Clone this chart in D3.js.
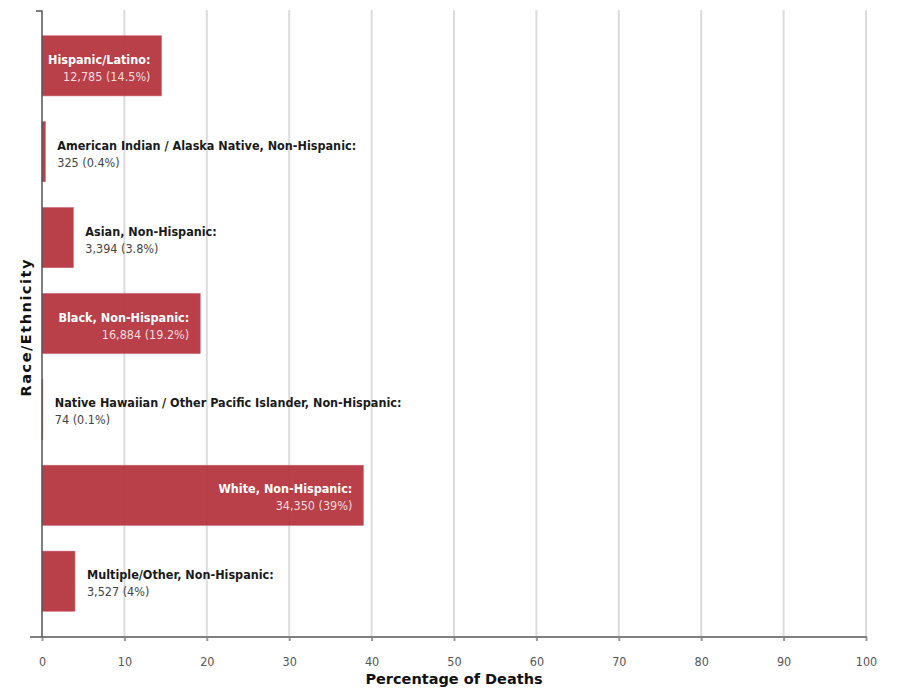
<!DOCTYPE html>
<html><head><meta charset="utf-8">
<script src="https://cdn.jsdelivr.net/npm/d3@7"></script>
<style>
body{margin:0;background:#fff;}
svg{display:block;font-family:"DejaVu Sans Condensed","DejaVu Sans",sans-serif;}
</style></head>
<body><svg id="c" width="897" height="690"></svg>
<script>
const categories = ["Hispanic/Latino","American Indian / Alaska Native, Non-Hispanic","Asian, Non-Hispanic","Black, Non-Hispanic","Native Hawaiian / Other Pacific Islander, Non-Hispanic","White, Non-Hispanic","Multiple/Other, Non-Hispanic"];
const percents = [14.5,0.4,3.8,19.2,0.1,39,4];
const counts = ["12,785","325","3,394","16,884","74","34,350","3,527"];
const pctLabels = ["14.5%","0.4%","3.8%","19.2%","0.1%","39%","4%"];
const xTicks = [0,10,20,30,40,50,60,70,80,90,100];

const svg = d3.select("#c");
const m = {left:42, right:31, top:10, bottom:53};
const W = 897, H = 690;
const x = d3.scaleLinear().domain([0,100]).range([m.left, W-m.right]);
const y = d3.scaleBand().domain(categories).range([m.top, H-m.bottom]).padding(0.3);

// gridlines
svg.append("g").selectAll("line").data(xTicks.filter(d=>d>0)).join("line")
  .attr("x1",d=>x(d)).attr("x2",d=>x(d)).attr("y1",m.top).attr("y2",H-m.bottom)
  .attr("stroke","#dcdcdc").attr("stroke-width",2);

// bars
const data = categories.map((c,i)=>({c,p:percents[i],n:counts[i],pl:pctLabels[i]}));
svg.append("g").selectAll("rect").data(data).join("rect")
  .attr("x",x(0)).attr("y",d=>y(d.c)).attr("width",d=>x(d.p)-x(0)).attr("height",y.bandwidth())
  .attr("fill","#b32f3a").attr("fill-opacity",0.92)
  .attr("stroke","#c9666e").attr("stroke-width",0.6);

// labels
const lg = svg.append("g");
data.forEach(d=>{
  const inside = (x(d.p)-x(0)) > 110;
  const cy = y(d.c)+y.bandwidth()/2;
  const tx = inside ? x(d.p)-11 : x(d.p)+12;
  const t = lg.append("text").attr("x",tx).attr("y",cy-2)
    .attr("text-anchor",inside?"end":"start").style("font-size","12.5px");
  t.append("tspan").attr("x",tx).attr("font-weight","bold")
    .attr("fill",inside?"#fff":"#1a1a1a").text(d.c+":");
  t.append("tspan").attr("x",tx).attr("dy",17)
    .attr("fill",inside?"#f3dcdd":"#444").text(d.n+" ("+d.pl+")");
});

// x axis
const xa = svg.append("g").attr("transform",`translate(0,${H-m.bottom})`)
  .call(d3.axisBottom(x).tickValues(xTicks).tickSize(4).tickPadding(16));
xa.select(".domain").remove();
xa.selectAll(".tick line").attr("stroke","#999").attr("stroke-width",2);
xa.selectAll("text").attr("fill","#555").style("font-size","12.5px").style("font-family","DejaVu Sans Condensed, DejaVu Sans");
svg.append("line").attr("x1",30).attr("x2",x(100)+1).attr("y1",H-m.bottom).attr("y2",H-m.bottom)
  .attr("stroke","#808080").attr("stroke-width",2);

// y axis
svg.append("path").attr("d",`M36,${m.top+1}H${m.left}V${H-m.bottom}`)
  .attr("fill","none").attr("stroke","#555").attr("stroke-width",1.5);

// titles
svg.append("text").attr("x",454).attr("y",684).attr("text-anchor","middle")
  .attr("font-weight","bold").style("font-size","14.5px").style("font-family","DejaVu Sans")
  .attr("fill","#111").text("Percentage of Deaths");
svg.append("text").attr("transform",`translate(31,328) rotate(-90)`).attr("text-anchor","middle")
  .attr("font-weight","bold").style("font-size","14.5px").style("font-family","DejaVu Sans")
  .attr("textLength",137).attr("lengthAdjust","spacing")
  .attr("fill","#111").text("Race/Ethnicity");
</script></body></html>
